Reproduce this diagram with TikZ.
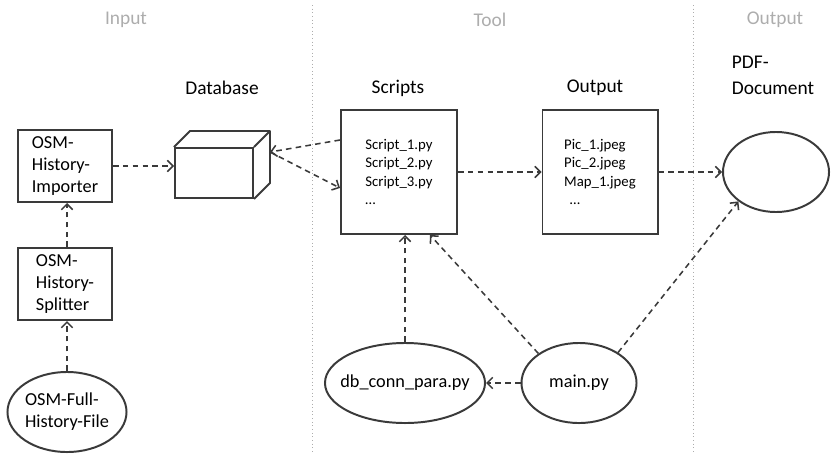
\documentclass[tikz,border=0pt]{standalone}
\usepackage{fontspec}
\setmainfont{Carlito}
\usetikzlibrary{arrows.meta,shapes.geometric,calc}
\definecolor{edgegray}{HTML}{3A3A3A}
\definecolor{phasegray}{HTML}{ADADAD}

\begin{document}
\begin{tikzpicture}[x=0.025cm, y=-0.025cm,
    box/.style={draw=edgegray, line width=1.4pt, align=left, inner sep=0pt,
                font=\fontsize{13}{15.5}\selectfont},
    oval/.style={ellipse, draw=edgegray, line width=1.4pt, align=left, inner sep=0pt,
                 minimum height=2cm, font=\fontsize{13}{15.5}\selectfont},
    listing/.style={font=\fontsize{10.5}{13}\selectfont},
    heading/.style={font=\fontsize{13.8}{18.5}\selectfont},
    phase/.style={text=phasegray, font=\fontsize{13.8}{16}\selectfont},
    flow/.style={draw=edgegray, line width=1.1pt, dash pattern=on 4pt off 3pt,
                 -{Straight Barb[length=4pt,width=8pt]}}]
    % Fix the page to the size of the reference
    \useasboundingbox (0,0) rectangle (832,454);

    % Depth of the database cube
    \def\depth{16}

    % Phases and their separators
    \node[phase] (inputlbl) at (126,20) {Input};
    \node[phase] (toollbl) at (490,20) {Tool};
    \node[phase] (outputlbl) at (775,20) {Output};
    \draw[phasegray, dotted, line width=0.6pt] (312,5) -- (312,454);
    \draw[phasegray, dotted, line width=0.6pt] (693,5) -- (693,454);

    % Input column
    \node[box, minimum width=2.35cm, minimum height=1.8cm] (imp) at (65,166) {OSM-\\History-\\Importer};
    \node[box, minimum width=2.35cm, minimum height=1.8cm] (split) at (65,284) {OSM-\\History-\\Splitter};
    \node[oval, minimum width=2.975cm] (histfile) at (67,412) {OSM-Full-\\History-File};

    % Database as a cube
    \node[heading] (dblbl) at (222,88) {Database};
    \node[box, minimum width=1.95cm, minimum height=1.25cm] (db) at (214,173) {};
    \draw[edgegray, line width=1.4pt, line join=round]
        (db.north west) -- ($(db.north west)+(\depth,-\depth)$)
        -- ($(db.north east)+(\depth,-\depth)$) -- ($(db.south east)+(\depth,-\depth)$)
        -- (db.south east);
    \draw[edgegray, line width=1.4pt] (db.north east) -- ($(db.north east)+(\depth,-\depth)$);
    \coordinate (dbside) at ($(db.north east)+(\depth,5)$);

    % Tool column
    \node[heading] (scriptslbl) at (398,88) {Scripts};
    \node[box, listing, minimum width=2.9cm, minimum height=3.1cm] (scripts) at (399,172)
        {Script\_1.py\\Script\_2.py\\Script\_3.py\\\ldots};
    \node[heading] (outlbl) at (595,88) {Output};
    \node[box, listing, minimum width=2.875cm, minimum height=3.1cm] (outbox) at (600,172)
        {Pic\_1.jpeg\\Pic\_2.jpeg\\Map\_1.jpeg\\\hspace{4pt}\ldots};
    \node[oval, minimum width=4cm] (conn) at (405,383) {\makebox[0pt]{db\_conn\_para.py}};
    \node[oval, minimum width=2.875cm] (mainpy) at (579,383) {main.py};

    % Output column
    \node[heading, align=left] (pdflbl) at (773,75) {PDF-\\Document};
    \node[oval, minimum width=2.65cm] (pdf) at (776,172) {};

    % Connectors
    \draw[flow] (histfile.north) -- (histfile.north |- split.south);
    \draw[flow] (split.north -| histfile.north) -- (imp.south -| histfile.north);
    \draw[flow] (imp.east) -- (imp.east -| db.west);
    \draw[flow] ($(scripts.west)+(0,-32)$) -- (dbside);
    \draw[flow] (dbside) -- ($(scripts.west)+(0,16)$);
    \draw[flow] (scripts.east) -- (outbox.west);
    \draw[flow] (outbox.east) -- (pdf.west);
    \draw[flow] (conn.north) -- (conn.north |- scripts.south);
    \draw[flow] (mainpy.144) -- ($(scripts.south)+(31,0)$);
    \draw[flow] (mainpy.38) -- (pdf.218);
    \draw[flow] (mainpy.west) -- (conn.east);
\end{tikzpicture}
\end{document}
